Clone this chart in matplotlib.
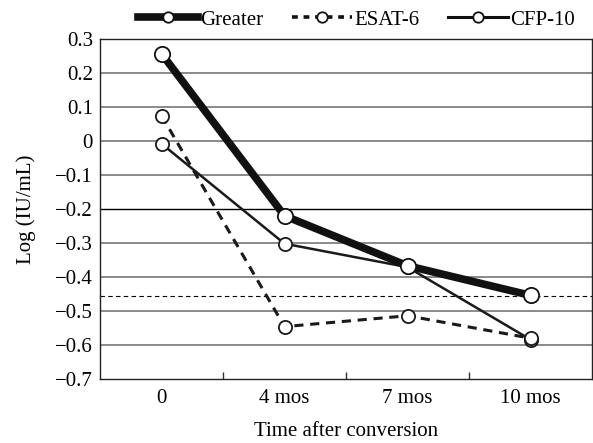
import matplotlib
matplotlib.use("Agg")
import matplotlib.pyplot as plt
from matplotlib.lines import Line2D

plt.rcParams['font.family'] = ['Liberation Serif', 'DejaVu Serif']
plt.rcParams['axes.unicode_minus'] = True

categories = ["0", "4 mos", "7 mos", "10 mos"]
greater = [0.257, -0.220, -0.367, -0.454]
esat6 = [0.075, -0.546, -0.514, -0.580]
cfp10 = [-0.008, -0.302, -0.371, -0.584]
threshold = -0.455
yticks = [0.3, 0.2, 0.1, 0, -0.1, -0.2, -0.3, -0.4, -0.5, -0.6, -0.7]
ytick_labels = ["0.3", "0.2", "0.1", "0", "\u22120.1", "\u22120.2", "\u22120.3",
                "\u22120.4", "\u22120.5", "\u22120.6", "\u22120.7"]

FS = 15

fig = plt.figure(figsize=(5.93, 4.43), dpi=100)
ax = fig.add_axes([100/593, 1-379/443, 492/593, 340/443])

x = list(range(len(categories)))
for yv in yticks:
    if yv == -0.2:
        ax.axhline(yv, color='black', lw=1.0, zorder=1)
    elif yv not in (0.3, -0.7):
        ax.axhline(yv, color='#8a8a8a', lw=1.4, zorder=1)
ax.axhline(threshold, color='black', lw=0.8, ls=(0, (4, 3)), zorder=1)

ax.plot(x, cfp10, color='#1a1a1a', lw=1.8, marker='o', ms=9.5, mfc='white',
        mec='#1a1a1a', mew=1.3, zorder=3)
ax.plot(x, esat6, color='#1a1a1a', lw=2.2, ls=(0, (3, 2.2)), marker='o', ms=9.5,
        mfc='white', mec='#1a1a1a', mew=1.3, zorder=3)
ax.plot(x, greater, color='#111111', lw=5.5, marker='o', ms=11, mfc='white',
        mec='#111111', mew=1.3, zorder=4)

ax.set_xlim(-0.5, 3.5)
ax.set_ylim(-0.7, 0.3)
ax.set_yticks(yticks)
ax.set_yticklabels(ytick_labels, fontsize=FS)
ax.tick_params(axis='y', length=0, pad=5)
ax.set_xticks(x)
ax.set_xticklabels(categories, fontsize=FS)
ax.tick_params(axis='x', length=0, pad=7)
ax.set_xticks([0.5, 1.5, 2.5], minor=True)
ax.tick_params(axis='x', which='minor', direction='in', length=5, width=1, color='#333333')
for s in ax.spines.values():
    s.set_linewidth(1.0)
    s.set_color('#222222')

ax.set_ylabel("Log (IU/mL)", fontsize=FS, labelpad=14)
ax.set_xlabel("Time after conversion", fontsize=FS, labelpad=10)

handles = [
    Line2D([], [], color='#111111', lw=5.5, marker='o', ms=7.5, mfc='white', mec='#111111', mew=1.3),
    Line2D([], [], color='#111111', lw=2.6, ls=(0, (1.6, 1.6)), marker='o', ms=7.5, mfc='white', mec='#111111', mew=1.3),
    Line2D([], [], color='#111111', lw=2.2, marker='o', ms=7.5, mfc='white', mec='#111111', mew=1.3),
]
fig.legend(handles, ["Greater", "ESAT-6", "CFP-10"], loc='upper left',
           bbox_to_anchor=(138/593, 1 - 10/443), ncol=3, frameon=False, fontsize=FS,
           handlelength=2.9, handletextpad=0.1, columnspacing=1.35, borderpad=0,
           borderaxespad=0)

fig.savefig("out.png", dpi=100)
